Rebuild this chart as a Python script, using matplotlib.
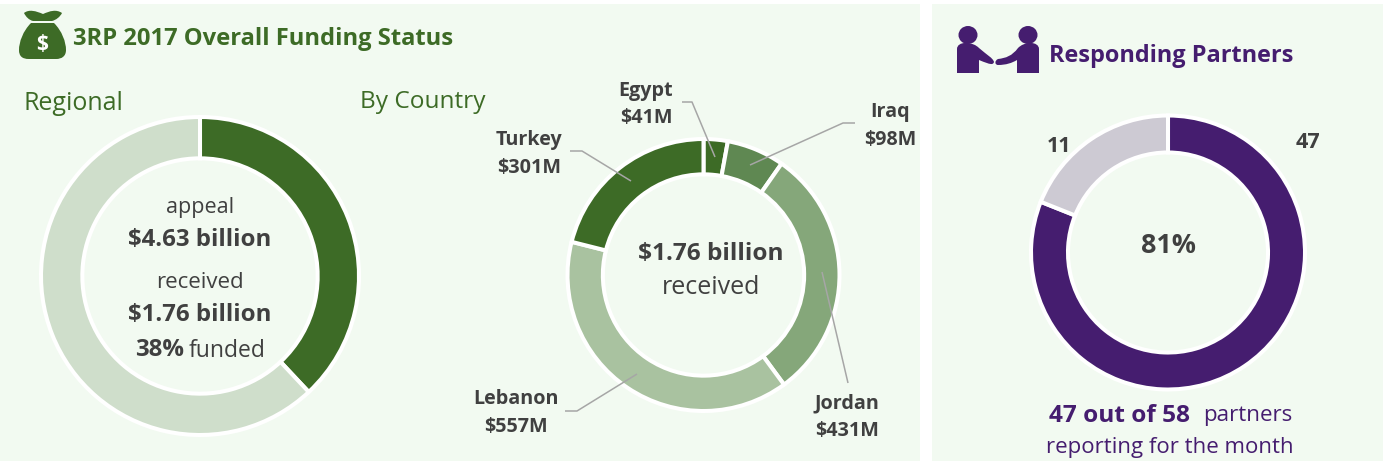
import matplotlib
matplotlib.use("Agg")
import matplotlib.pyplot as plt
from matplotlib.patches import Rectangle, Ellipse, PathPatch
from matplotlib.path import Path

W, H = 1383, 462
plt.rcParams['font.family'] = ['Open Sans', 'DejaVu Sans']

regional_labels = ["received", "unfunded"]
regional_values = [1.76, 2.87]
regional_colors = ["#3D6B26", "#CFDECB"]

country_labels = ["Egypt", "Iraq", "Jordan", "Lebanon", "Turkey"]
country_values = [41, 98, 431, 557, 301]
country_colors = ["#3D6B26", "#5F8852", "#85A77A", "#A9C2A0", "#3D6B26"]

partner_labels = ["responding", "not responding"]
partner_values = [47, 11]
partner_colors = ["#451D6F", "#CDCAD3"]

GREEN = "#3D6B26"
PURPLE = "#451D6F"
DARK = "#404040"
BG = "#F2FAF1"
LINE = "#A6A6A6"

fig = plt.figure(figsize=(W / 100, H / 100), dpi=100, facecolor="white")
ov = fig.add_axes([0, 0, 1, 1], zorder=3)
ov.set_xlim(0, W)
ov.set_ylim(H, 0)
ov.axis("off")
ov.patch.set_alpha(0)

bgax = fig.add_axes([0, 0, 1, 1], zorder=0)
bgax.set_xlim(0, W)
bgax.set_ylim(H, 0)
bgax.axis("off")
bgax.add_patch(Rectangle((0, 4), 920, 457, fc=BG, ec="none"))
bgax.add_patch(Rectangle((932, 4), 451, 457, fc=BG, ec="none"))


def donut(cx, cy, r, values, colors, width):
    ax = fig.add_axes([(cx - r) / W, 1 - (cy + r) / H, 2 * r / W, 2 * r / H], zorder=1)
    ax.pie(values, colors=colors, startangle=90, counterclock=False, radius=1,
           wedgeprops=dict(width=width, edgecolor="white", linewidth=2.9, clip_on=False))
    ax.set_xlim(-1, 1)
    ax.set_ylim(-1, 1)
    ax.patch.set_alpha(0)
    return ax


donut(200, 276, 159, regional_values, regional_colors, 0.26)
donut(703.5, 275, 136, country_values, country_colors, 0.26)
donut(1168, 252.5, 137, partner_values, partner_colors, 0.27)


def t(x, y, s, size, color=DARK, weight="normal", ha="center"):
    return ov.text(x, y + 2, s, fontsize=size, color=color, fontweight=weight, ha=ha, va="center")


t(73, 37, "3RP 2017 Overall Funding Status", 17.1, GREEN, "bold", "left")
t(23, 102, "Regional", 18, GREEN, ha="left")
t(360, 100, "By Country", 17.6, GREEN, ha="left")
t(1049, 54, "Responding Partners", 16.9, PURPLE, "bold", "left")

t(200, 205, "appeal", 15.5)
t(200, 238, "$4.63 billion", 17.3, weight="bold")
t(200, 280, "received", 16)
t(200, 313, "$1.76 billion", 17.3, weight="bold")
t(135, 348, "38%", 17.3, weight="bold", ha="left")
t(189, 349, "funded", 16.5, ha="left")

t(711, 252, "$1.76 billion", 17.6, weight="bold")
t(711, 286, "received", 18)

t(1169, 244, "81%", 19.4, weight="bold")
t(1059, 144, "11", 15.5, weight="bold")
t(1308, 141, "47", 15.5, weight="bold")
t(1049, 414, "47 out of 58", 17.6, PURPLE, "bold", "left")
t(1203, 414, "partners", 16.1, PURPLE, ha="left")
t(1170, 446, "reporting for the month", 16, PURPLE)

labels = [
    (646, 90, "Egypt"), (646, 117, "$41M"),
    (890, 111, "Iraq"), (890, 139, "$98M"),
    (529, 139, "Turkey"), (529, 167, "$301M"),
    (847, 402, "Jordan"), (847, 430, "$431M"),
    (516, 398, "Lebanon"), (516, 426, "$557M"),
]
for x, y, s in labels:
    t(x, y - 1, s, 14.2, weight="bold")

leaders = [
    [(682, 102), (692, 102), (715, 157)],
    [(855, 123), (843, 123), (750, 165)],
    [(570, 151), (582, 151), (631, 181)],
    [(822, 272), (848, 383)],
    [(565, 411), (577, 411), (637, 374)],
]
for pts in leaders:
    ov.plot(*zip(*pts), color=LINE, lw=1.1, solid_capstyle="butt")


def shape(verts, codes, color):
    ov.add_patch(PathPatch(Path(verts, codes), fc=color, ec="none"))


M, L, C, Z = Path.MOVETO, Path.LINETO, Path.CURVE4, Path.CLOSEPOLY

# money bag icon: body
shape([(31, 23), (54, 23),
       (62, 31), (66, 42), (66, 50),
       (66, 56), (62, 59), (56, 59),
       (29, 59),
       (22, 59), (19, 56), (19, 50),
       (19, 42), (23, 31), (31, 23),
       (31, 23)],
      [M, L, C, C, C, C, C, C, L, C, C, C, C, C, C, Z], GREEN)
# money bag icon: tied top
shape([(24, 13), (29, 9), (36, 11), (43, 14),
       (50, 11), (56, 9), (62, 13),
       (60, 17), (56, 20), (52, 21),
       (33, 21),
       (29, 20), (26, 17), (24, 13), (24, 13)],
      [M, C, C, C, C, C, C, C, C, C, L, C, C, C, Z], GREEN)
t(42, 42, "$", 15, "white", "bold")

# handshake icon
for x in (968, 1028):
    ov.add_patch(Ellipse((x, 35), 19, 18, fc=PURPLE, ec="none"))
shape([(957, 73), (957, 49), (957, 45), (961, 43), (965, 43), (972, 43), (976, 45), (979, 48),
       (987, 55), (993, 58), (994, 62), (993, 65), (991, 65), (979, 60), (979, 73), (957, 73)],
      [M, L, C, C, C, C, C, C, C, C, C, C, C, L, L, Z], PURPLE)
shape([(1039, 73), (1039, 49), (1039, 45), (1035, 43), (1031, 43), (1025, 43), (1021, 45), (1018, 48),
       (1012, 56), (1006, 58), (998, 59), (994, 61), (995, 65), (998, 65), (1006, 65), (1012, 63), (1017, 60),
       (1017, 73), (1039, 73)],
      [M, L, C, C, C, C, C, C, C, C, C, C, C, C, C, C, L, L, Z], PURPLE)

fig.savefig("out.png", dpi=100, facecolor="white")
